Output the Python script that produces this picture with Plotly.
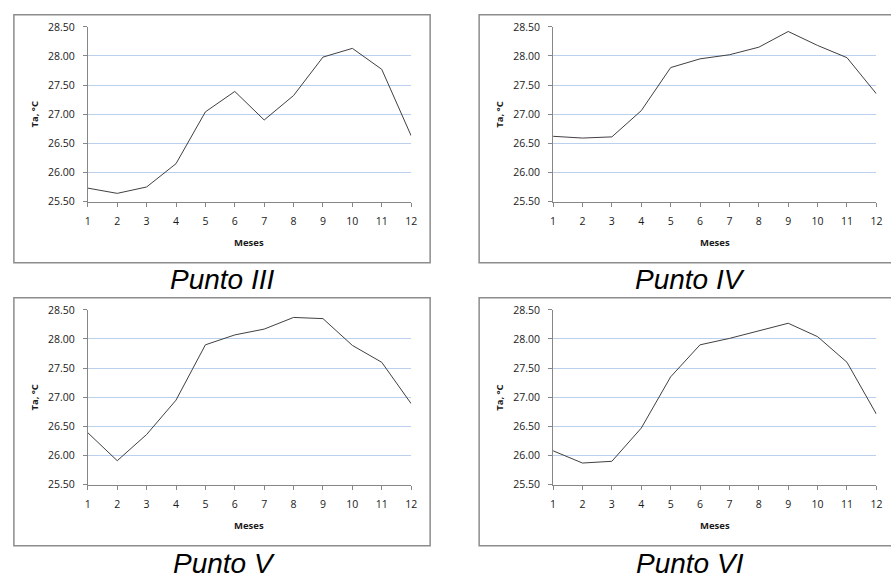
import plotly.graph_objects as go

# Monthly mean air temperature (Ta, °C) at four sampling points
meses = [1, 2, 3, 4, 5, 6, 7, 8, 9, 10, 11, 12]
punto_iii = [25.73, 25.64, 25.75, 26.15, 27.04, 27.39, 26.90, 27.32, 27.98, 28.13, 27.77, 26.63]
punto_iv = [26.62, 26.59, 26.61, 27.06, 27.80, 27.95, 28.02, 28.15, 28.42, 28.18, 27.97, 27.35]
punto_v = [26.39, 25.91, 26.36, 26.95, 27.90, 28.07, 28.17, 28.37, 28.35, 27.89, 27.60, 26.89]
punto_vi = [26.08, 25.87, 25.90, 26.47, 27.35, 27.90, 28.01, 28.14, 28.27, 28.04, 27.60, 26.71]

y_ticks = [25.5, 26.0, 26.5, 27.0, 27.5, 28.0, 28.5]
titles = ["Punto III", "Punto IV", "Punto V", "Punto VI"]
series = [punto_iii, punto_iv, punto_v, punto_vi]

W, H = 891, 585


def px(x):
    return x / W


def py(y):
    return 1 - y / H


# panel geometry in pixels: plot area left/right, top/bottom; frame box; title center
panels = [
    dict(x0=85.7, x1=412.3, top=20.3, bot=199.3, box=(11, 8, 431.5, 262), tc=(222, 279)),
    dict(x0=555.7, x1=882.3, top=20.3, bot=199.3, box=(481, 8, 900, 262), tc=(694, 279)),
    dict(x0=85.7, x1=412.3, top=310.3, bot=489.3, box=(11, 298, 431.5, 552), tc=(223, 570)),
    dict(x0=555.7, x1=882.3, top=310.3, bot=489.3, box=(481, 298, 900, 552), tc=(694, 570)),
]

AXIS_GREY = "#868686"
GRID_BLUE = "#BBD0EC"
TICK_FONT = dict(family="Open Sans", size=10.5, color="#1a1a1a")
LABEL_FONT = dict(family="Open Sans", size=9.5, color="#1a1a1a")

fig = go.Figure()
layout = {}
shapes = []
annotations = []

for i, (p, vals, title) in enumerate(zip(panels, series, titles)):
    n = "" if i == 0 else str(i + 1)
    fig.add_trace(go.Scatter(
        x=meses, y=vals, mode="lines",
        line=dict(color="#404040", width=1),
        xaxis="x" + n, yaxis="y" + n, showlegend=False, hoverinfo="x+y",
    ))
    layout["xaxis" + n] = dict(
        domain=[px(p["x0"]), px(p["x1"])], anchor="y" + n,
        range=[1, 12], tickvals=meses, showgrid=False, zeroline=False,
        showline=True, linecolor=AXIS_GREY, linewidth=1,
        ticks="outside", ticklen=4, tickcolor=AXIS_GREY, tickwidth=1,
        ticklabelstandoff=6,
        tickfont=TICK_FONT, fixedrange=True,
    )
    layout["yaxis" + n] = dict(
        domain=[py(p["bot"]), py(p["top"])], anchor="x" + n,
        range=[25.5, 28.5], tickvals=y_ticks, tickformat=".2f",
        showgrid=True, gridcolor=GRID_BLUE, gridwidth=1, zeroline=False,
        showline=True, linecolor=AXIS_GREY, linewidth=1,
        ticks="outside", ticklen=4, tickcolor=AXIS_GREY, tickwidth=1,
        ticklabelstandoff=6,
        tickfont=TICK_FONT, fixedrange=True,
    )
    bx0, by0, bx1, by1 = p["box"]
    shapes.append(dict(
        type="rect", xref="paper", yref="paper",
        x0=px(bx0), x1=px(bx1), y0=py(by1), y1=py(by0),
        line=dict(color="#8C8C8C", width=1.5), fillcolor="rgba(0,0,0,0)",
        layer="below",
    ))
    # axis titles
    annotations.append(dict(
        text="<b>Meses</b>", xref="paper", yref="paper",
        x=px((p["x0"] + p["x1"]) / 2), y=py(p["bot"] + 42),
        xanchor="center", yanchor="middle", showarrow=False, font=LABEL_FONT,
    ))
    annotations.append(dict(
        text="<b>Ta, °C</b>", xref="paper", yref="paper",
        x=px(p["x0"] - 54), y=py((p["top"] + p["bot"]) / 2),
        xanchor="center", yanchor="middle", textangle=-90,
        showarrow=False, font=LABEL_FONT,
    ))
    # point name below each chart
    annotations.append(dict(
        text="<i>" + title + "</i>", xref="paper", yref="paper",
        x=px(p["tc"][0]), y=py(p["tc"][1]),
        xanchor="center", yanchor="middle", showarrow=False,
        font=dict(family="Liberation Sans", size=28, color="#000000"),
    ))

fig.update_layout(
    width=W, height=H,
    margin=dict(l=0, r=0, t=0, b=0),
    paper_bgcolor="white", plot_bgcolor="white",
    shapes=shapes, annotations=annotations,
    **layout,
)

fig.write_html("out.html", config={"displayModeBar": False})
